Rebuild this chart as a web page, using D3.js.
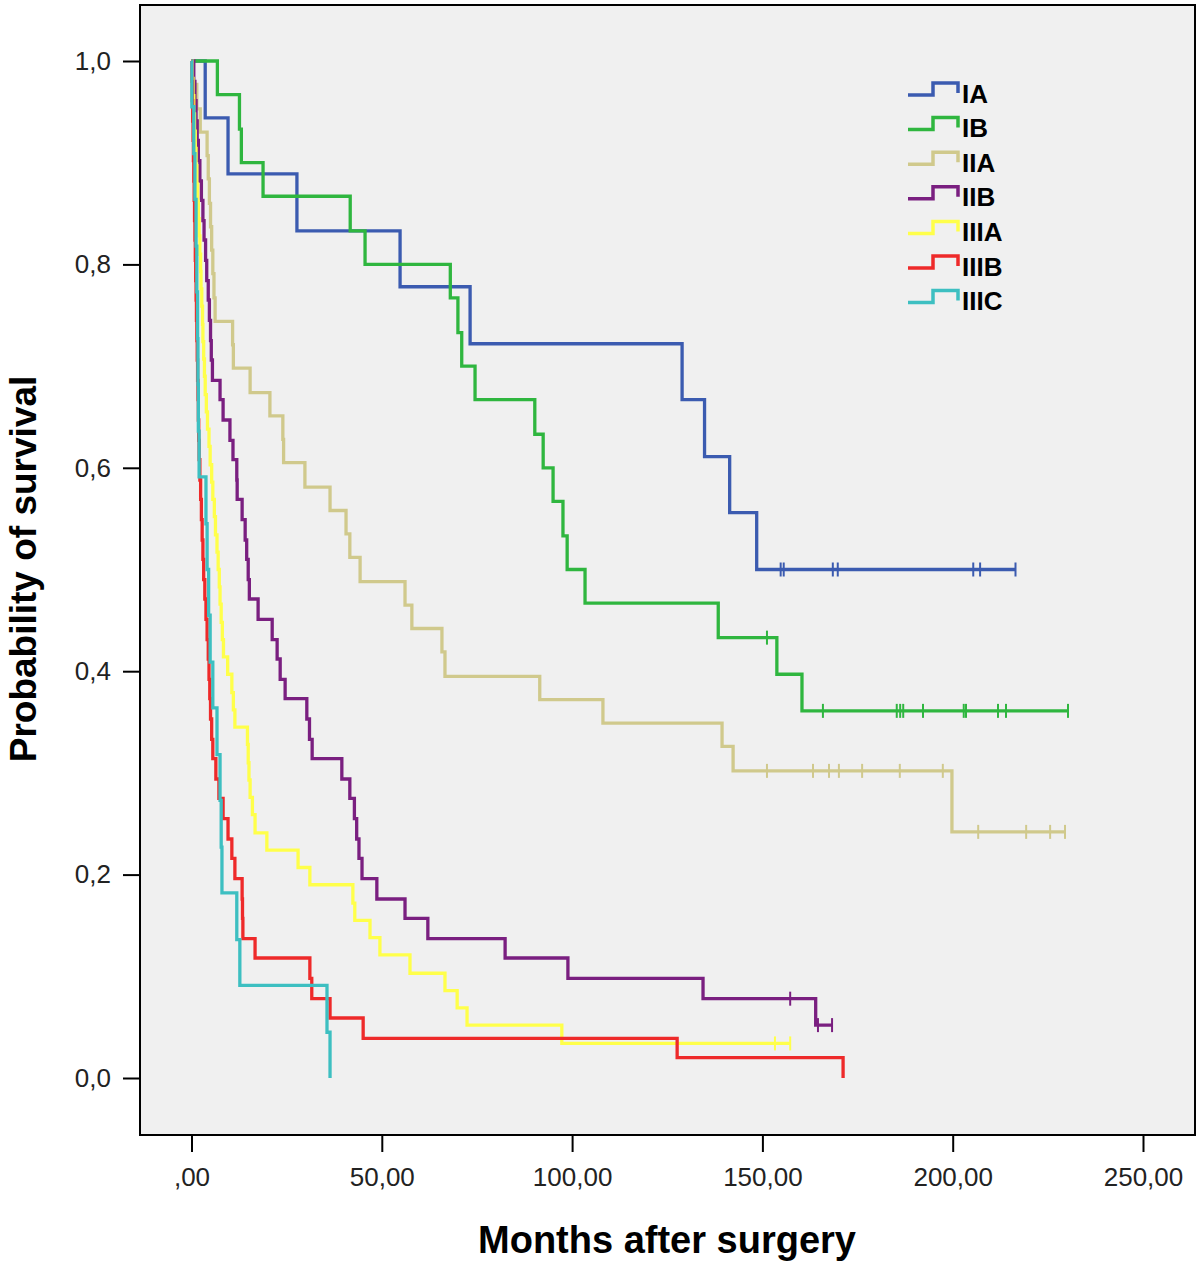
<!DOCTYPE html>
<html><head><meta charset="utf-8">
<script src="https://cdn.jsdelivr.net/npm/d3@7"></script>
<style>html,body{margin:0;padding:0;background:#fff;}</style>
</head><body>
<script>
// ---- data ----
const groups = ["IA","IB","IIA","IIB","IIIA","IIIB","IIIC"];
const colors = ["#3b5bb0","#2fb63f","#d0c98c","#7a1f80","#ffff4a","#ee2a2a","#3dbfc1"];

const xTicks = [0,50,100,150,200,250];
const xTickLabels = [",00","50,00","100,00","150,00","200,00","250,00"];
const yTicks = [0,0.2,0.4,0.6,0.8,1.0];
const yTickLabels = ["0,0","0,2","0,4","0,6","0,8","1,0"];

const iaT = [3.6,9.6,27.7,54.8,73.2,128.9,134.8,141.4,148.5];
const iaS = [0.944,0.889,0.833,0.778,0.722,0.667,0.611,0.556,0.500];
const iaC = [154.8,155.6,168.5,169.8,205.4,207.2,216.5];

const ibT = [6.8,12.6,13.1,18.8,41.7,45.6,68.0,70.0,71.0,74.5,90.2,92.4,95.0,97.6,98.7,103.4,138.4,153.8,160.4];
const ibS = [0.967,0.933,0.900,0.867,0.833,0.800,0.767,0.733,0.700,0.667,0.633,0.600,0.567,0.533,0.500,0.467,0.433,0.397,0.361];
const ibC = [151.2,165.9,185.3,186.2,187.0,192.2,202.9,203.5,211.9,214.0,230.3];

const iiaT = [0.5,1.4,2.3,4.1,4.4,4.7,5.0,5.3,5.6,5.9,6.2,10.8,11.0,15.4,20.6,24.0,24.2,29.8,36.4,40.6,41.6,44.3,56.1,57.9,65.8,66.6,91.5,108.1,139.4,142.3,199.8];
const iiaS = [0.977,0.953,0.930,0.907,0.884,0.860,0.837,0.814,0.791,0.767,0.744,0.721,0.698,0.674,0.651,0.628,0.605,0.581,0.558,0.535,0.512,0.488,0.465,0.442,0.419,0.395,0.372,0.349,0.326,0.302,0.242];
const iiaC = [151.2,163.3,167.5,170.1,176.2,186.1,197.4,206.7,219.3,225.6,229.5];

const iibT = [0.6,0.9,1.2,1.5,1.8,2.2,2.6,3.0,3.3,3.7,4.0,4.4,4.7,5.0,5.2,5.5,7.5,8.3,10.1,10.9,11.9,12.0,13.3,14.1,14.5,14.9,15.2,17.5,21.2,22.5,23.3,24.6,30.3,31.0,31.7,39.5,41.6,42.8,43.4,44.0,44.8,48.7,56.1,62.1,82.4,98.9,134.4,164.0];
const iibS = [0.980,0.961,0.941,0.922,0.902,0.882,0.863,0.843,0.824,0.804,0.784,0.765,0.745,0.725,0.706,0.686,0.667,0.647,0.627,0.608,0.588,0.569,0.549,0.529,0.510,0.490,0.471,0.451,0.431,0.412,0.392,0.373,0.353,0.333,0.314,0.294,0.275,0.255,0.235,0.216,0.196,0.176,0.157,0.137,0.118,0.098,0.078,0.052];
const iibC = [157.3,164.6,168.3];

const iiiaT = [0.2,0.4,0.6,0.8,1.0,1.2,1.4,1.6,1.8,2.0,2.2,2.4,2.5,2.7,2.9,3.0,3.2,3.4,3.6,3.9,4.2,4.6,4.9,5.3,5.6,6.0,6.3,6.7,7.0,7.3,7.5,7.8,8.1,8.4,9.5,10.6,11.0,11.4,14.7,14.9,15.1,15.4,16.0,16.7,19.8,28.0,31.1,42.4,42.9,46.9,49.5,57.4,66.6,69.8,72.4,97.3];
const iiiaS = [0.983,0.966,0.948,0.931,0.914,0.897,0.879,0.862,0.845,0.828,0.810,0.793,0.776,0.759,0.741,0.724,0.707,0.690,0.672,0.655,0.638,0.621,0.603,0.586,0.569,0.552,0.534,0.517,0.500,0.483,0.466,0.448,0.431,0.414,0.397,0.379,0.362,0.345,0.328,0.310,0.293,0.276,0.259,0.241,0.224,0.207,0.190,0.172,0.155,0.138,0.121,0.103,0.086,0.069,0.052,0.034];
const iiiaC = [153.3,157.3];

const iiibT = [0.1,0.2,0.3,0.4,0.5,0.6,0.7,0.8,0.9,1.0,1.1,1.2,1.3,1.4,1.5,1.6,1.7,1.8,1.9,2.0,2.2,2.4,2.6,2.8,3.0,3.2,3.5,3.8,4.1,4.4,4.6,4.8,5.0,5.3,5.6,6.4,7.2,8.3,9.6,10.6,11.4,13.3,13.4,13.5,16.7,31.1,31.6,36.4,45.1,127.6,171.2];
const iiibS = [0.980,0.961,0.941,0.922,0.902,0.882,0.863,0.843,0.824,0.804,0.784,0.765,0.745,0.725,0.706,0.686,0.667,0.647,0.627,0.608,0.588,0.569,0.549,0.529,0.510,0.490,0.471,0.451,0.431,0.412,0.392,0.373,0.353,0.333,0.314,0.294,0.275,0.255,0.235,0.216,0.196,0.176,0.157,0.137,0.118,0.098,0.078,0.059,0.039,0.020,0.0];
const iiibC = [];

const iiicT = [0.1,0.6,0.9,1.2,1.4,1.6,1.7,1.8,2.0,3.8,4.1,4.5,4.9,5.6,6.7,7.5,7.8,8.0,11.9,12.7,35.6,36.4];
const iiicS = [0.955,0.909,0.864,0.818,0.773,0.727,0.682,0.636,0.591,0.545,0.500,0.455,0.409,0.364,0.318,0.273,0.227,0.182,0.136,0.091,0.045,0.0];
const iiicC = [];

const seriesT = [iaT,ibT,iiaT,iibT,iiiaT,iiibT,iiicT];
const seriesS = [iaS,ibS,iiaS,iibS,iiiaS,iiibS,iiicS];
const seriesC = [iaC,ibC,iiaC,iibC,iiiaC,iiibC,iiicC];

// ---- drawing ----
const W = 1200, H = 1263;
const svg = d3.select("body").append("svg").attr("width", W).attr("height", H)
  .style("display","block");

const plot = {left:140, top:5, right:1195, bottom:1135};
svg.append("rect").attr("x", plot.left).attr("y", plot.top)
  .attr("width", plot.right - plot.left).attr("height", plot.bottom - plot.top)
  .attr("fill", "#f0f0f0");

const x = d3.scaleLinear().domain([0,250]).range([191.5,1143]);
const y = d3.scaleLinear().domain([0,1]).range([1078,61]);

const font = "'Liberation Sans', Arial, sans-serif";

// axes
const yAxis = svg.append("g").attr("transform", `translate(${plot.left},0)`)
  .call(d3.axisLeft(y).tickValues(yTicks).tickSize(17).tickPadding(12)
    .tickFormat((d,i) => yTickLabels[i]));
const xAxis = svg.append("g").attr("transform", `translate(0,${plot.bottom})`)
  .call(d3.axisBottom(x).tickValues(xTicks).tickSize(17).tickPadding(16)
    .tickFormat((d,i) => xTickLabels[i]));
[yAxis, xAxis].forEach(g => {
  g.select(".domain").remove();
  g.selectAll(".tick line").attr("stroke","#000").attr("stroke-width",2);
  g.selectAll(".tick text").attr("fill","#222").style("font-family",font).style("font-size","26px");
});

// curves
const line = d3.line().x(d => x(d[0])).y(d => y(d[1])).curve(d3.curveStepAfter);
const curves = svg.append("g");
groups.forEach((g, i) => {
  const T = seriesT[i], S = seriesS[i], C = seriesC[i];
  const pts = [[0,1]];
  T.forEach((t, j) => pts.push([t, S[j]]));
  const lastS = S[S.length-1];
  if (C.length && d3.max(C) > T[T.length-1]) pts.push([d3.max(C), lastS]);
  curves.append("path").attr("d", line(pts)).attr("fill","none")
    .attr("stroke", colors[i]).attr("stroke-width", 3.3);
  C.forEach(c => {
    let s = 1;
    T.forEach((t, j) => { if (t <= c) s = S[j]; });
    curves.append("line").attr("x1", x(c)).attr("x2", x(c))
      .attr("y1", y(s) - 7).attr("y2", y(s) + 7)
      .attr("stroke", colors[i]).attr("stroke-width", 2);
  });
});

// frame
svg.append("rect").attr("x", plot.left).attr("y", plot.top)
  .attr("width", plot.right - plot.left).attr("height", plot.bottom - plot.top)
  .attr("fill", "none").attr("stroke", "#000").attr("stroke-width", 2);

// legend
const leg = svg.append("g");
groups.forEach((g, i) => {
  const cy = 93 + i * 34.6;
  leg.append("path")
    .attr("d", `M908,${cy+2}H933V${cy-10}H958V${cy}`)
    .attr("fill","none").attr("stroke", colors[i]).attr("stroke-width", 3.5);
  leg.append("text").attr("x", 962).attr("y", cy + 9.5).text(g)
    .style("font-family", font).style("font-weight","bold").style("font-size","26px")
    .attr("fill","#000");
});

// titles
svg.append("text").attr("x", 667).attr("y", 1253).attr("text-anchor","middle")
  .text("Months after surgery")
  .style("font-family", font).style("font-weight","bold").style("font-size","38px").attr("fill","#000");
svg.append("text").attr("transform","translate(36,569) rotate(-90)").attr("text-anchor","middle")
  .text("Probability of survival")
  .style("font-family", font).style("font-weight","bold").style("font-size","37px").attr("fill","#000");
</script>
</body></html>
